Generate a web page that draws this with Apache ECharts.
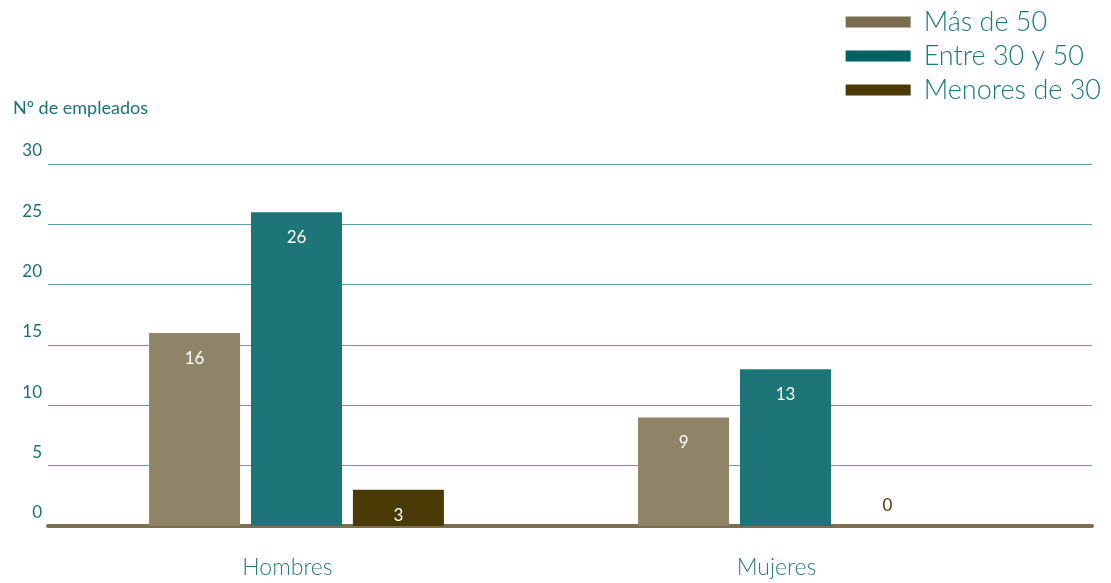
<!DOCTYPE html>
<html lang="es">
<head>
    <meta charset="UTF-8">
    <title>Nº de empleados</title>
    <script src="https://cdn.jsdelivr.net/npm/echarts@6.0.0/dist/echarts.min.js"></script>
    <style>
        html, body { margin: 0; padding: 0; background: #fff; }
        #chart { width: 1111px; height: 583px; }
    </style>
</head>
<body>
<div id="chart"></div>
<script>
    const categories = ['Hombres', 'Mujeres'];
    const seriesNames = ['Más de 50', 'Entre 30 y 50', 'Menores de 30'];
    const masDe50 = [16, 9];
    const entre30y50 = [26, 13];
    const menoresDe30 = [3, 0];
    const yTicks = [0, 5, 10, 15, 20, 25, 30];

    const barColors = ['#8f8468', '#1e7578', '#4a3a06'];
    const legendColors = ['#7a6d4f', '#006262', '#4a3a06'];
    const teal = '#1e7074';

    const chart = echarts.init(document.querySelector('#chart'));

    const barLabel = {
        show: true,
        position: 'insideTop',
        distance: 17,
        color: '#ffffff',
        fontSize: 17,
        fontFamily: 'Lato',
        fontWeight: 400
    };

    function barData(values) {
        return values.map(v => v === 0
            ? { value: v, label: { position: 'top', distance: 12, color: '#4a3a06' } }
            : v);
    }

    chart.setOption({
        animation: false,
        title: {
            text: 'Nº de empleados',
            left: 8,
            top: 94,
            textStyle: { color: teal, fontSize: 18, fontWeight: 400, fontFamily: 'Lato' }
        },
        legend: {
            orient: 'vertical',
            right: 5,
            top: 2,
            itemWidth: 65,
            itemHeight: 11,
            itemGap: 4,
            icon: 'rect',
            textStyle: {
                color: '#1d7a7a', fontSize: 27, lineHeight: 30, fontWeight: 300,
                fontFamily: 'Lato', padding: [0, 0, 0, 8]
            },
            data: seriesNames.map((n, i) => ({ name: n, itemStyle: { color: legendColors[i] } }))
        },
        grid: [
            { left: 48, right: 19, top: 164, bottom: 57 },
            { left: 52, right: 81, top: 164, bottom: 57 }
        ],
        xAxis: [
            {
                gridIndex: 0,
                type: 'category',
                data: categories,
                axisLine: { show: true, lineStyle: { color: '#7d7050', width: 4 } },
                axisTick: { show: false },
                axisLabel: { show: false }
            },
            {
                gridIndex: 1,
                type: 'category',
                data: categories,
                axisLine: { show: false },
                axisTick: { show: false },
                axisLabel: {
                    color: '#2b7b80',
                    fontSize: 23,
                    fontWeight: 300,
                    fontFamily: 'Lato',
                    margin: 30,
                    padding: [0, 18, 0, 0]
                }
            }
        ],
        yAxis: [
            {
                gridIndex: 0,
                type: 'value',
                min: yTicks[0],
                max: yTicks[yTicks.length - 1],
                interval: 5,
                axisLine: { show: false },
                axisTick: { show: false },
                splitLine: { lineStyle: { color: '#5e9fa1', width: 1 } },
                axisLabel: {
                    color: teal,
                    fontSize: 17,
                    fontFamily: 'Lato',
                    margin: 6,
                    verticalAlign: 'bottom',
                    lineHeight: 18,
                    padding: [0, 0, 4, 0]
                }
            },
            {
                gridIndex: 1,
                type: 'value',
                min: yTicks[0],
                max: yTicks[yTicks.length - 1],
                interval: 5,
                show: false
            }
        ],
        series: [
            { name: seriesNames[0], data: barData(masDe50) },
            { name: seriesNames[1], data: barData(entre30y50) },
            { name: seriesNames[2], data: barData(menoresDe30) }
        ].map((s, i) => ({
            name: s.name,
            type: 'bar',
            xAxisIndex: 1,
            yAxisIndex: 1,
            barWidth: 91,
            barGap: '12%',
            itemStyle: { color: barColors[i] },
            label: barLabel,
            data: s.data
        }))
    });
</script>
</body>
</html>
